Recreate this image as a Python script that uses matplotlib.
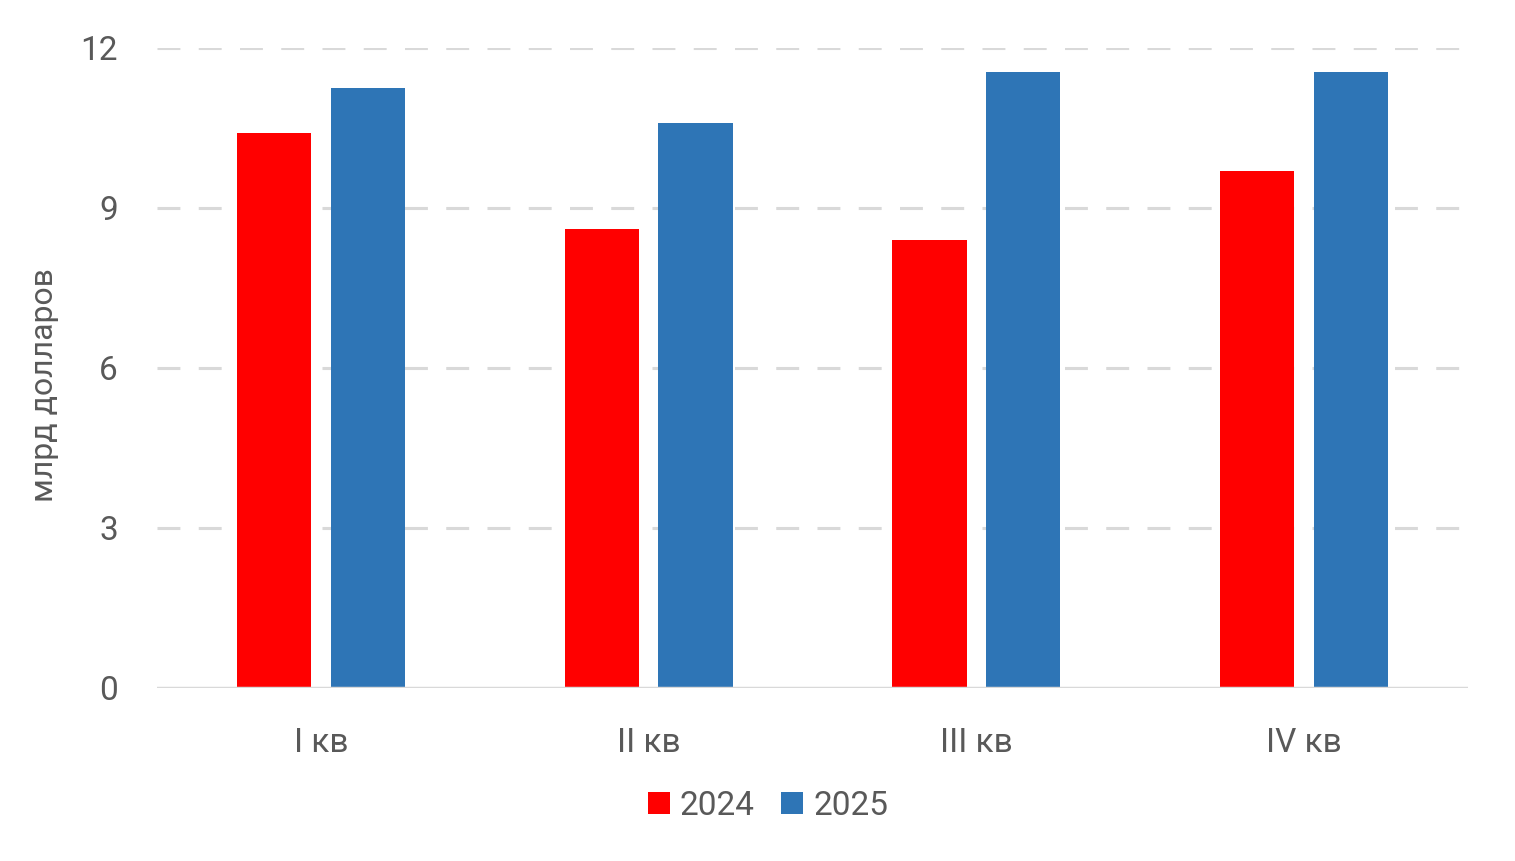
import matplotlib
matplotlib.use("Agg")
import matplotlib.pyplot as plt
import numpy as np

categories = ["I кв", "II кв", "III кв", "IV кв"]
series_names = ["2024", "2025"]
values_2024 = [10.4, 8.6, 8.4, 9.7]
values_2025 = [11.25, 10.6, 11.55, 11.55]
y_ticks = [0, 3, 6, 9, 12]

plt.rcParams['font.family'] = ["Roboto", "DejaVu Sans"]

txt = "#595959"
fig = plt.figure(figsize=(15.15, 8.61), dpi=100)
ax = fig.add_axes([157/1515, 1-688/861, (1468-157)/1515, (688-48)/861])

x = np.arange(len(categories))
w = 0.226
off = 0.143
ax.bar(x - off, values_2024, w, color="#FF0000", label=series_names[0], zorder=3)
ax.bar(x + off, values_2025, w, color="#2E75B6", label=series_names[1], zorder=3)

ax.set_xlim(-0.5, 3.5)
ax.set_ylim(0, 12)
ax.set_yticks(y_ticks)
ax.set_xticks(x)
ax.set_xticklabels(categories)
for t in y_ticks[1:]:
    ax.axhline(t, color="#d9d9d9", lw=2.2, ls=(0, (7.5, 6)), zorder=1)
ax.axhline(0, color="#d9d9d9", lw=2.5, zorder=4)
for s in ax.spines.values():
    s.set_visible(False)
ax.tick_params(axis='both', length=0, labelsize=24, colors=txt)
ax.tick_params(axis='y', pad=28)
ax.tick_params(axis='x', pad=28)
fig.text(45/1515, 1-385/861, "млрд долларов", rotation=90, fontsize=23,
         color=txt, ha="center", va="center")

leg = fig.legend(loc="center", bbox_to_anchor=(768/1515, 1-806/861), ncol=2,
                 frameon=False, fontsize=24, handlelength=0.65, handleheight=0.65,
                 handletextpad=0.3, columnspacing=0.8, labelcolor=txt)
fig.savefig("out.png", dpi=100)
